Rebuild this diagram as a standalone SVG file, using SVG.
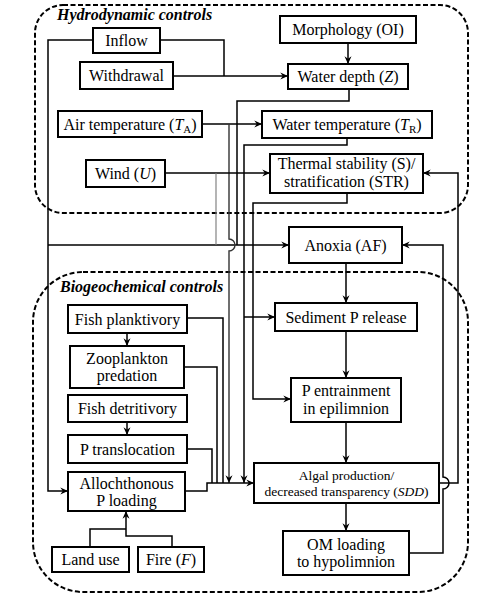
<svg xmlns="http://www.w3.org/2000/svg" width="497" height="600" viewBox="0 0 497 600">
<style>
.box{fill:#fff;stroke:#000;stroke-width:2}
.cont{fill:none;stroke:#000;stroke-width:2;stroke-dasharray:5,2.5}
.ln{fill:none;stroke:#000;stroke-width:1.5}
.gl{fill:none;stroke:#777;stroke-width:1.1}
.gl2{fill:none;stroke:#333;stroke-width:1.4}
.t{font-size:16px;fill:#000;text-anchor:middle}
.sm{font-size:13.5px}
.ttl{font-size:16px;font-weight:bold;font-style:italic}
.it{font-style:italic}
</style>
<defs>
<marker id="ar" viewBox="0 0 8 8" refX="8" refY="4" markerWidth="8" markerHeight="8" markerUnits="userSpaceOnUse" orient="auto">
<path d="M0.3,0.5 L8,4 L0.3,7.5 L2.8,4 z" fill="#000"/>
</marker>
</defs>
<rect fill="#fff" x="0" y="0" width="497" height="600"/>
<g id="containers" font-family="Liberation Serif, serif">
<rect class="cont" x="35" y="5" width="433" height="208" rx="28" ry="28"/>
<text class="ttl" x="57" y="20" font-family="Liberation Serif">Hydrodynamic controls</text>
<rect class="cont" x="33" y="272" width="435" height="320" rx="50" ry="50"/>
<text class="ttl" x="60" y="292" font-family="Liberation Serif">Biogeochemical controls</text>
</g>
<g id="connectors">
<path class="ln" d="M160,40 H224 V76"/>
<path class="ln" d="M173,76 H288" marker-end="url(#ar)"/>
<path class="ln" d="M93,40 H48 V491 H68" marker-end="url(#ar)"/>
<path class="ln" d="M48,245 H289" marker-end="url(#ar)"/>
<path class="ln" d="M348,43 V64" marker-end="url(#ar)"/>
<path class="ln" d="M349,89 V101 H237 V245"/>
<path class="ln" d="M202,124 H262" marker-end="url(#ar)"/>
<path class="gl2" d="M229,124 V239 A6,6 0 0 1 229,251 V483" marker-end="url(#ar)"/>
<path class="ln" d="M165,173 H270" marker-end="url(#ar)"/>
<path class="gl" d="M216,173 V245"/>
<path class="ln" d="M347,138 V145 H244 V483" marker-end="url(#ar)"/>
<path class="ln" d="M244,317 H275" marker-end="url(#ar)"/>
<path class="ln" d="M347,193 V203 H253 V399 H291" marker-end="url(#ar)"/>
<path class="ln" d="M346,263 V303" marker-end="url(#ar)"/>
<path class="ln" d="M346,331 V378" marker-end="url(#ar)"/>
<path class="ln" d="M346,422 V463" marker-end="url(#ar)"/>
<path class="ln" d="M346,503 V531" marker-end="url(#ar)"/>
<path class="ln" d="M439,483 H458 V173 H423" marker-end="url(#ar)"/>
<path class="ln" d="M409,553 H443 V489 A6,6 0 0 0 443,477 V245 H402" marker-end="url(#ar)"/>
<path class="ln" d="M127,333 V346" marker-end="url(#ar)"/>
<path class="ln" d="M127,422 V435" marker-end="url(#ar)"/>
<path class="ln" d="M187,318 H223 V483"/>
<path class="ln" d="M184,367 H217 V483"/>
<path class="ln" d="M187,449 H212 V483"/>
<path class="ln" d="M185,491 H207 V483 H254" marker-end="url(#ar)"/>
<path class="ln" d="M90,547 V529 H126"/>
<path class="ln" d="M172,547 V536 H126 V511" marker-end="url(#ar)"/>
</g>
<g font-family="Liberation Serif">
<g id="inflow"><rect class="box" x="93" y="28" width="67" height="25"/><text class="t" font-family="Liberation Serif" x="126.5" y="46">Inflow</text></g>
<g id="withdrawal"><rect class="box" x="80" y="62" width="93" height="27"/><text class="t" font-family="Liberation Serif" x="126.5" y="81">Withdrawal</text></g>
<g id="air-temperature"><rect class="box" x="58" y="111" width="144" height="26"/><text class="t" font-family="Liberation Serif" x="130" y="129.5">Air temperature (<tspan class="it">T</tspan><tspan font-size="11" dy="3">A</tspan><tspan dy="-3">)</tspan></text></g>
<g id="wind"><rect class="box" x="86" y="160" width="79" height="27"/><text class="t" font-family="Liberation Serif" x="125.5" y="179">Wind (<tspan class="it">U</tspan>)</text></g>
<g id="morphology"><rect class="box" x="280" y="16" width="136" height="27"/><text class="t" font-family="Liberation Serif" x="348" y="35">Morphology (OI)</text></g>
<g id="water-depth"><rect class="box" x="288" y="64" width="120" height="25"/><text class="t" font-family="Liberation Serif" x="348" y="82">Water depth (<tspan class="it">Z</tspan>)</text></g>
<g id="water-temperature"><rect class="box" x="262" y="111" width="170" height="27"/><text class="t" font-family="Liberation Serif" x="347" y="130">Water temperature (<tspan class="it">T</tspan><tspan font-size="11" dy="3">R</tspan><tspan dy="-3">)</tspan></text></g>
<g id="thermal-stability"><rect class="box" x="270" y="154" width="153" height="39"/><text class="t" font-family="Liberation Serif" x="346.5" y="169">Thermal stability (S)/</text><text class="t" font-family="Liberation Serif" x="346.5" y="187">stratification (STR)</text></g>
<g id="anoxia"><rect class="box" x="289" y="227" width="113" height="36"/><text class="t" font-family="Liberation Serif" x="345.5" y="250.5">Anoxia (AF)</text></g>
<g id="sediment-p-release"><rect class="box" x="275" y="303" width="142" height="28"/><text class="t" font-family="Liberation Serif" x="346" y="322.5">Sediment P release</text></g>
<g id="p-entrainment"><rect class="box" x="291" y="378" width="110" height="44"/><text class="t" font-family="Liberation Serif" x="346" y="396">P entrainment</text><text class="t" font-family="Liberation Serif" x="346" y="414">in epilimnion</text></g>
<g id="algal-production"><rect class="box" x="254" y="463" width="185" height="40"/><text class="t sm" font-family="Liberation Serif" x="346.5" y="480">Algal production/</text><text class="t sm" font-family="Liberation Serif" x="346.5" y="496">decreased transparency (<tspan class="it">SDD</tspan>)</text></g>
<g id="om-loading"><rect class="box" x="283" y="531" width="126" height="44"/><text class="t" font-family="Liberation Serif" x="346" y="550">OM loading</text><text class="t" font-family="Liberation Serif" x="346" y="567">to hypolimnion</text></g>
<g id="fish-planktivory"><rect class="box" x="68" y="305" width="119" height="28"/><text class="t" font-family="Liberation Serif" x="127.5" y="324.5">Fish planktivory</text></g>
<g id="zooplankton-predation"><rect class="box" x="70" y="346" width="114" height="42"/><text class="t" font-family="Liberation Serif" x="127" y="364">Zooplankton</text><text class="t" font-family="Liberation Serif" x="127" y="381">predation</text></g>
<g id="fish-detritivory"><rect class="box" x="68" y="395" width="119" height="27"/><text class="t" font-family="Liberation Serif" x="127.5" y="414">Fish detritivory</text></g>
<g id="p-translocation"><rect class="box" x="68" y="435" width="119" height="28"/><text class="t" font-family="Liberation Serif" x="127.5" y="454.5">P translocation</text></g>
<g id="allochthonous-p-loading"><rect class="box" x="68" y="472" width="117" height="39"/><text class="t" font-family="Liberation Serif" x="126.5" y="489">Allochthonous</text><text class="t" font-family="Liberation Serif" x="126.5" y="506">P loading</text></g>
<g id="land-use"><rect class="box" x="52" y="547" width="77" height="25"/><text class="t" font-family="Liberation Serif" x="90.5" y="565">Land use</text></g>
<g id="fire"><rect class="box" x="138" y="547" width="66" height="25"/><text class="t" font-family="Liberation Serif" x="171" y="565">Fire (<tspan class="it">F</tspan>)</text></g>
</g>
</svg>
